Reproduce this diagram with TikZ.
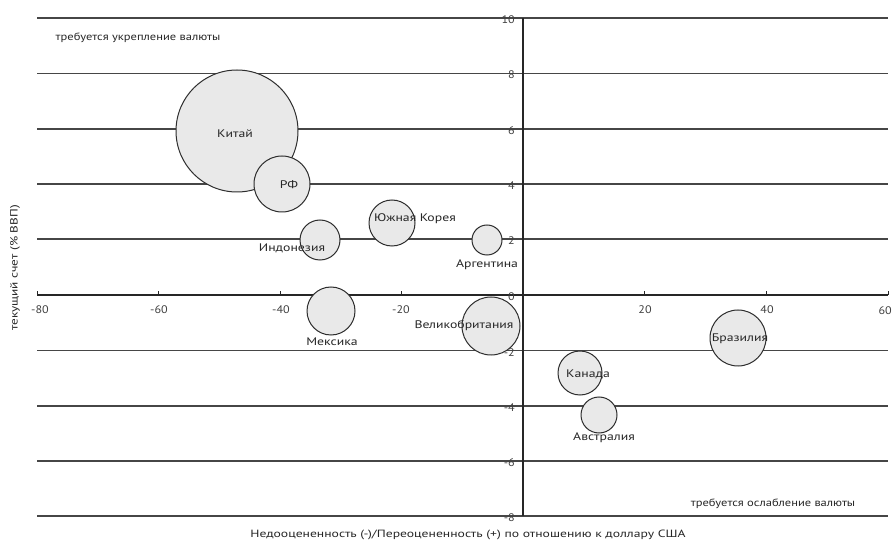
\documentclass[tikz,border=0pt]{standalone}
\usepackage{fontspec}
\setmainfont{PT Sans}
\newcommand\stretchtxt[2]{\scalebox{#1}[1]{#2}}
\begin{document}
\begin{tikzpicture}[x=1pt,y=-1pt,
  grid/.style={draw=gray!55!black, line width=1.8pt},
  axisline/.style={draw=black!85, line width=1.3pt},
  bubble/.style={circle, draw=gray!35!black, line width=1pt, fill=gray!17, inner sep=0pt, minimum size=#1},
  lbl/.style={font=\fontsize{11}{12}\selectfont, inner sep=0pt, text=black!85},
  ticklbl/.style={font=\fontsize{11}{12}\selectfont, inner sep=0pt, text=black!75},
  note/.style={font=\fontsize{10.5}{11}\selectfont, inner sep=0pt, text=black!85}]
\useasboundingbox (0,0) rectangle (892,545);
\fill[white] (0,0) rectangle (892,545);
% gridlines
\foreach \yy in {18.3,73.5,128.7,183.9,239.2,350.6,405.8,461,516.2}
  \draw[grid] (37,\yy) -- (888,\yy);
% axes
\draw[axisline] (37,295) -- (888,295);
\draw[axisline] (523,18) -- (523,516);
\foreach \xx in {37,158.6,280.2,401.4,644.6,766.2,888}
  \draw[axisline, line width=1pt] (\xx,295) -- (\xx,291);
% x tick labels
\foreach \xx/\t in {40/-80,159/-60,281/-40,401/-20,645/20,767/40}
  \node[ticklbl] at (\xx,310) {\stretchtxt{1.1}{\t}};
\node[ticklbl, anchor=east] (x60) at (892,311) {\stretchtxt{1.1}{60}};
% y tick labels
\foreach \yy/\t in {18.3/10,73.5/8,128.7/6,183.9/4,239.2/2,295/0,350.6/-2,405.8/-4,461/-6,516.2/-8}
  \node[ticklbl, anchor=east] at (515,\yy+1.5) {\stretchtxt{1.1}{\t}};
% bubbles
\node[bubble=122pt] (cn) at (237,131) {};
\node[bubble=56pt] (ru) at (282,184) {};
\node[bubble=40pt] (id) at (320,240) {};
\node[bubble=46pt] (kr) at (392,223) {};
\node[bubble=30pt] (ar) at (487,240) {};
\node[bubble=48pt] (mx) at (331,311) {};
\node[bubble=58pt] (gb) at (491,326) {};
\node[bubble=56pt] (br) at (738,338) {};
\node[bubble=44pt] (ca) at (580,373) {};
\node[bubble=36pt] (au) at (599,415) {};
% labels
\node[lbl] (cnl) at (235,134) {\stretchtxt{1.25}{Китай}};
\node[lbl] (rul) at (289,185) {\stretchtxt{1.25}{РФ}};
\node[lbl] (idl) at (292,248) {\stretchtxt{1.25}{Индонезия}};
\node[lbl] (krl) at (415,219) {\stretchtxt{1.25}{Южная Корея}};
\node[lbl] (arl) at (487,265) {\stretchtxt{1.25}{Аргентина}};
\node[lbl] (mxl) at (332,342) {\stretchtxt{1.25}{Мексика}};
\node[lbl] (gbl) at (464,326) {\stretchtxt{1.25}{Великобритания}};
\node[lbl] (brl) at (740,339) {\stretchtxt{1.25}{Бразилия}};
\node[lbl] (cal) at (588,374) {\stretchtxt{1.25}{Канада}};
\node[lbl] (aul) at (604,438) {\stretchtxt{1.25}{Австралия}};
% notes
\node[note] (tl) at (138,38) {\stretchtxt{1.19}{требуется укрепление валюты}};
\node[note] (br2) at (773,504) {\stretchtxt{1.19}{требуется ослабление валюты}};
\node[note] (xt) at (468,535) {\stretchtxt{1.3}{Недооцененность (-)/Переоцененность (+) по отношению к доллару США}};
\node[note, rotate=90] (yt) at (15,268) {\stretchtxt{1.26}{текущий счет (\% ВВП)}};
\end{tikzpicture}
\end{document}
